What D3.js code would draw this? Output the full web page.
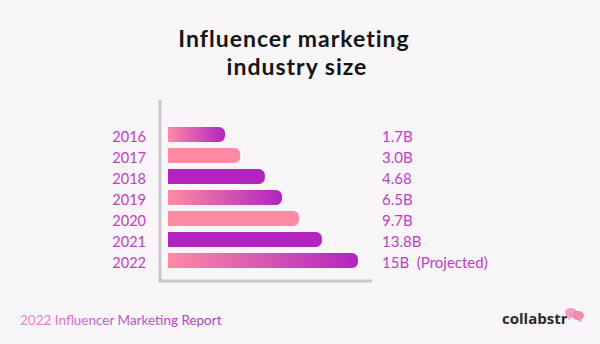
<!DOCTYPE html>
<html lang="en">
<head>
<meta charset="utf-8">
<title>Influencer marketing industry size</title>
<style>
body { margin: 0; background: #f9f6fa; }
svg { display: block; }
.title { font: bold 23px Lato, sans-serif; letter-spacing: 1px; fill: #141414; text-anchor: middle; }
.year { font: 14.5px Lato, sans-serif; fill: #c23cc8; text-anchor: end; }
.val { font: 15px Lato, sans-serif; fill: #c23cc8; white-space: pre; }
.foot { font: 13.5px Lato, sans-serif; }
.logo { font: bold 15px "Open Sans", sans-serif; fill: #2a2a2a; }
</style>
</head>
<body>
<div id="chart"></div>
<script src="https://d3js.org/d3.v7.min.js"></script>
<script>
// data
var years = ['2016', '2017', '2018', '2019', '2020', '2021', '2022'];
var valueLabels = ['1.7B', '3.0B', '4.68', '6.5B', '9.7B', '13.8B', '15B  (Projected)'];
// drawn bar length, % of the longest bar (bars are not to scale with the labels)
var barSize = [30, 38, 51, 60, 69, 81, 100];
var barStyle = ['grad', 'pink', 'purple', 'grad', 'pink', 'purple', 'grad'];

var W = 600, H = 344;
var pink = '#ff8aa4', purple = '#b224c0';

var svg = d3.select('#chart').append('svg')
  .attr('width', W).attr('height', H);

svg.append('rect').attr('width', W).attr('height', H).attr('fill', '#f9f6fa');

var defs = svg.append('defs');
var g1 = defs.append('linearGradient').attr('id', 'barGrad');
g1.append('stop').attr('offset', '0%').attr('stop-color', pink);
g1.append('stop').attr('offset', '100%').attr('stop-color', purple);
var g2 = defs.append('linearGradient').attr('id', 'footGrad')
  .attr('gradientUnits', 'userSpaceOnUse').attr('x1', 20).attr('x2', 217);
g2.append('stop').attr('offset', '0%').attr('stop-color', '#f48cbc');
g2.append('stop').attr('offset', '40%').attr('stop-color', '#c85ccc');
g2.append('stop').attr('offset', '100%').attr('stop-color', '#b43cc8');

// title
svg.append('text').attr('class', 'title').attr('x', 294).attr('y', 47).text('Influencer marketing');
svg.append('text').attr('class', 'title').attr('x', 297).attr('y', 75).text('industry size');

var x0 = 168;
var x = d3.scaleLinear().domain([0, 100]).range([x0, x0 + 190]);
var y = d3.scaleBand().domain(years).range([127, 268]).paddingInner(0.29).paddingOuter(0);

// axes lines
svg.append('line').attr('x1', 160).attr('x2', 160).attr('y1', 100).attr('y2', 282)
  .attr('stroke', '#c8c8c8').attr('stroke-width', 3);
svg.append('line').attr('x1', 158.5).attr('x2', 372).attr('y1', 281).attr('y2', 281)
  .attr('stroke', '#c8c8c8').attr('stroke-width', 3);

function barPath(d, i) {
  var x1 = x0, x2 = x(d), yt = y(years[i]), h = y.bandwidth(), r = 6;
  return 'M' + x1 + ',' + yt + 'H' + (x2 - r) +
    'A' + r + ',' + r + ' 0 0 1 ' + x2 + ',' + (yt + r) +
    'V' + (yt + h - r) +
    'A' + r + ',' + r + ' 0 0 1 ' + (x2 - r) + ',' + (yt + h) +
    'H' + x1 + 'Z';
}

svg.selectAll('path.bar')
  .data(barSize)
  .enter()
  .append('path')
  .attr('class', 'bar')
  .attr('d', barPath)
  .attr('fill', function(d, i) {
    return barStyle[i] === 'grad' ? 'url(#barGrad)' : (barStyle[i] === 'pink' ? pink : purple);
  });

svg.selectAll('text.year')
  .data(years)
  .enter()
  .append('text')
  .attr('class', 'year')
  .attr('x', 146)
  .attr('y', function(d) { return y(d) + y.bandwidth() / 2 + 2.5; })
  .attr('dy', '0.35em')
  .text(function(d) { return d; });

svg.selectAll('text.val')
  .data(valueLabels)
  .enter()
  .append('text')
  .attr('class', 'val')
  .attr('x', 382)
  .attr('y', function(d, i) { return y(years[i]) + y.bandwidth() / 2 + 2.5; })
  .attr('dy', '0.35em')
  .text(function(d) { return d; });

// footer
svg.append('text').attr('class', 'foot').attr('x', 20).attr('y', 325)
  .attr('fill', 'url(#footGrad)').text('2022 Influencer Marketing Report');

svg.append('text').attr('class', 'logo').attr('x', 502).attr('y', 324).text('collabstr');
var bub = svg.append('g').attr('fill', '#f7a0b8');
bub.append('ellipse').attr('cx', 571).attr('cy', 312.5).attr('rx', 6).attr('ry', 4.5);
bub.append('path').attr('d', 'M569,315.5 L568,320.5 L573,316.5Z');
bub.append('ellipse').attr('cx', 578).attr('cy', 315.5).attr('rx', 6).attr('ry', 4.5).attr('fill', '#f48aac');
bub.append('path').attr('d', 'M580,318.5 L582,322.5 L576,319.5Z').attr('fill', '#f48aac');
</script>
</body>
</html>
